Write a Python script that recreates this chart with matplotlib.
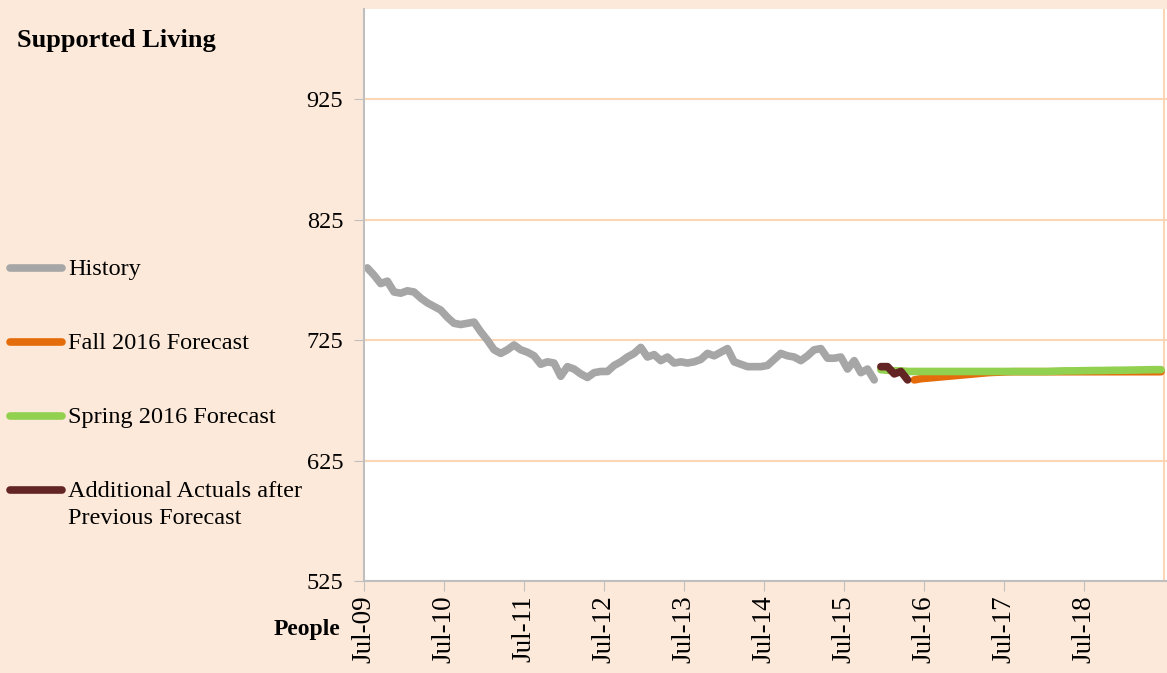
#!/usr/bin/env python3

import matplotlib
matplotlib.use('Agg')
import matplotlib.pyplot as plt
from matplotlib.lines import Line2D

# months counted from Jul-09 (index 0)
history = [785, 779, 772, 774, 765, 764, 766, 765, 760, 756, 753, 750,
           744, 739, 738, 739, 740, 732, 725, 717, 714, 717, 721, 717,
           715, 712, 705, 707, 706, 695, 703, 701, 697, 694, 698, 699,
           699, 704, 707, 711, 714, 719, 711, 713, 708, 711, 706, 707,
           706, 707, 709, 714, 712, 715, 718, 707, 705, 703, 703, 703,
           704, 709, 714, 712, 711, 708, 712, 717, 718, 710, 710, 711,
           701, 708, 698, 701, 692]
actuals_start = 77
actuals = [703, 703, 697, 699, 692]
spring_start = 77
spring = [700.5, 700, 699.5, 699.5, 699, 699, 699, 699, 699, 699,
          699, 699, 699, 699, 699, 699, 699, 699, 699, 699,
          699, 699, 699, 699, 699, 699, 699.2, 699.4, 699.5, 699.5,
          699.6, 699.7, 699.8, 699.8, 699.9, 700, 700, 700.1, 700.2, 700.3,
          700.4, 700.5, 700.5]
fall_start = 82
fall = [692, 693, 693.5, 694, 694.5, 695, 695.5, 696, 696.5, 697,
        697.5, 698, 698.3, 698.5, 698.7, 698.8, 698.8, 698.8, 698.8, 698.8,
        698.8, 698.8, 698.8, 698.8, 698.8, 698.8, 698.8, 698.8, 698.8, 698.8,
        698.8, 698.8, 698.8, 698.8, 698.8, 698.8, 698.8, 698.8]

tick_pos = list(range(0, 120, 12))
tick_labels = ['Jul-%02d' % y for y in range(9, 19)]
y_ticks = [525, 625, 725, 825, 925]

BG = '#FDE9D9'
GRID = '#FCD5B4'
COLORS = {'History': '#A6A6A6', 'Fall 2016 Forecast': '#E46C0A',
          'Spring 2016 Forecast': '#92D050',
          'Additional Actuals after\nPrevious Forecast': '#632523'}

plt.rcParams['font.family'] = ['Liberation Serif', 'DejaVu Serif']

OFFSET = 0.5  # points sit half a month right of the tick


def months(start, values):
    return [start + i + OFFSET for i in range(len(values))]


def main():
    fig = plt.figure(figsize=(11.67, 6.73), dpi=100, facecolor=BG)
    ax = fig.add_axes([364 / 1167, 1 - 581 / 673, 1 - 364 / 1167, 572 / 673])
    ax.set_facecolor('white')

    lw = 5.5
    ax.plot(months(0, history), history, color=COLORS['History'],
            lw=lw, solid_capstyle='round', solid_joinstyle='round')
    ax.plot(months(fall_start, fall), fall,
            color=COLORS['Fall 2016 Forecast'], lw=lw, solid_capstyle='round')
    ax.plot(months(spring_start, spring), spring,
            color=COLORS['Spring 2016 Forecast'], lw=lw, solid_capstyle='round')
    ax.plot(months(actuals_start, actuals), actuals,
            color=COLORS['Additional Actuals after\nPrevious Forecast'],
            lw=lw, solid_capstyle='round', solid_joinstyle='round')

    ax.set_xlim(0, 120.4)
    ax.set_ylim(525, 1000)
    ax.set_xticks(tick_pos)
    ax.set_xticklabels(tick_labels, rotation=90, fontsize=19.5)
    ax.set_xticks(range(0, 121, 12), minor=True)
    ax.set_yticks(y_ticks)
    ax.set_yticklabels([str(v) for v in y_ticks], fontsize=17.5)
    ax.grid(True, which='minor', axis='x', color=GRID, lw=1.5)
    ax.grid(True, which='major', axis='y', color=GRID, lw=1.5)
    ax.set_axisbelow(True)
    ax.tick_params(axis='x', which='major', length=7, color='#BFBFBF',
                   pad=3)
    ax.tick_params(axis='x', which='minor', length=0)
    ax.tick_params(axis='y', length=7, color='#BFBFBF', pad=8)

    for side in ['top', 'right']:
        ax.spines[side].set_visible(False)
    for side in ['left', 'bottom']:
        ax.spines[side].set_color('#BFBFBF')
        ax.spines[side].set_linewidth(1.5)

    fig.text(17 / 1167, 1 - 40 / 673, 'Supported Living', fontsize=19,
             fontweight='bold', va='center', ha='left')
    fig.text(340 / 1167, 1 - 629 / 673, 'People', fontsize=17,
             fontweight='bold', va='center', ha='right')

    # legend drawn by hand on the left margin
    ys = [268, 342, 416, 490]
    for (label, color), y in zip(COLORS.items(), ys):
        yf = 1 - y / 673
        fig.add_artist(Line2D([10 / 1167, 62 / 1167], [yf, yf],
                              transform=fig.transFigure, color=color,
                              lw=5.5, solid_capstyle='round'))
        fig.text(68 / 1167, 1 - (y - 9) / 673, label, fontsize=17.5,
                 va='top', ha='left', linespacing=1.4)

    fig.savefig('out.png', dpi=100, facecolor=BG)


if __name__ == '__main__':
    main()
